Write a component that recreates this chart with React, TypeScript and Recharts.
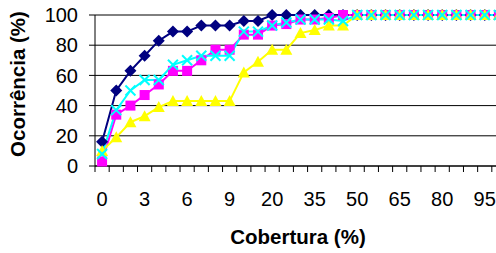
import { CartesianGrid, Label, Line, LineChart, XAxis, YAxis } from "recharts";

const CATEGORIES = [
  "0", "1", "2", "3", "4", "5", "6", "7", "8", "9",
  "10", "15", "20", "25", "30", "35", "40", "45", "50", "55",
  "60", "65", "70", "75", "80", "85", "90", "95", "100",
];

const SERIES_A = [16, 50, 63, 73, 83, 89, 89, 93, 93, 93, 96, 96, 100, 100, 100, 100, 100, 100, 100, 100, 100, 100, 100, 100, 100, 100, 100, 100, 100];
const SERIES_B = [3, 34, 40, 47, 54, 63, 63, 70, 77, 77, 87, 87, 93, 94, 97, 97, 98, 100, 100, 100, 100, 100, 100, 100, 100, 100, 100, 100, 100];
const SERIES_C = [10, 19, 29, 33, 39, 43, 43, 43, 43, 43, 62, 69, 77, 77, 88, 90, 93, 93, 100, 100, 100, 100, 100, 100, 100, 100, 100, 100, 100];
const SERIES_D = [8, 37, 50, 57, 57, 67, 70, 73, 73, 73, 89, 89, 93, 95, 97, 97, 97, 96, 100, 100, 100, 100, 100, 100, 100, 100, 100, 100, 100];

const Y_TICKS = [0, 20, 40, 60, 80, 100];

const data = CATEGORIES.map((cat, i) => ({
  pos: i + 0.5,
  cat,
  a: SERIES_A[i],
  b: SERIES_B[i],
  c: SERIES_C[i],
  d: SERIES_D[i],
}));

const X_TICKS = Array.from({ length: CATEGORIES.length + 1 }, (_, i) => i);

const FONT = "'Liberation Sans', Arial, sans-serif";
const PLOT_W = 411;
const BAND = PLOT_W / CATEGORIES.length;

const Diamond = (p: any) => {
  const { cx, cy } = p;
  if (cx == null || cy == null) return <g key={p.key} />;
  return (
    <polygon
      key={p.key}
      points={`${cx},${cy - 6} ${cx + 6},${cy} ${cx},${cy + 6} ${cx - 6},${cy}`}
      fill="#000080"
    />
  );
};

const Square = (p: any) => {
  const { cx, cy } = p;
  if (cx == null || cy == null) return <g key={p.key} />;
  return <rect key={p.key} x={cx - 5} y={cy - 5} width={10} height={10} fill="#FF00FF" />;
};

const Triangle = (p: any) => {
  const { cx, cy } = p;
  if (cx == null || cy == null) return <g key={p.key} />;
  return (
    <polygon
      key={p.key}
      points={`${cx},${cy - 6} ${cx + 6},${cy + 5} ${cx - 6},${cy + 5}`}
      fill="#FFFF00"
    />
  );
};

const Cross = (p: any) => {
  const { cx, cy } = p;
  if (cx == null || cy == null) return <g key={p.key} />;
  return (
    <g key={p.key} stroke="#00FFFF" strokeWidth={2}>
      <line x1={cx - 5} y1={cy - 5} x2={cx + 5} y2={cy + 5} />
      <line x1={cx - 5} y1={cy + 5} x2={cx + 5} y2={cy - 5} />
    </g>
  );
};

const XTick = (p: any) => {
  const { x, y, payload } = p;
  const i = payload.value;
  if (i % 3 !== 0 || i >= CATEGORIES.length) return <g />;
  return (
    <text x={x + BAND / 2} y={y} dy={14} textAnchor="middle" fill="#000" fontSize={20} fontFamily={FONT}>
      {CATEGORIES[i]}
    </text>
  );
};

export default function App() {
  return (
    <div style={{ position: "absolute", left: 0, top: 0, width: 496, height: 253, overflow: "hidden" }}>
      <LineChart
        width={508}
        height={253}
        data={data}
        margin={{ top: 15, right: 2, bottom: 0, left: 8 }}
        style={{ fontFamily: FONT }}
      >
        <CartesianGrid vertical={false} stroke="#000" strokeWidth={1} />
        <XAxis
          type="number"
          dataKey="pos"
          domain={[0, CATEGORIES.length]}
          ticks={X_TICKS}
          interval={0}
          allowDataOverflow
          height={87}
          stroke="#000"
          tickSize={6}
          tickMargin={20}
          tick={<XTick />}
        >
          <Label
            content={() => (
              <text x={298} y={244} textAnchor="middle" fontSize={20.5} fontWeight="bold" fill="#000" fontFamily={FONT}>
                Cobertura (%)
              </text>
            )}
          />
        </XAxis>
        <YAxis
          domain={[0, 100]}
          ticks={Y_TICKS}
          interval={0}
          width={87}
          stroke="#000"
          tickSize={6}
          tickMargin={11}
          tick={{ fill: "#000", fontSize: 20, fontFamily: FONT }}
        >
          <Label
            content={() => (
              <text
                x={0}
                y={0}
                transform="translate(25,84) rotate(-90)"
                textAnchor="middle"
                fontSize={20.5}
                fontWeight="bold"
                fill="#000"
                fontFamily={FONT}
              >
                Ocorrência (%)
              </text>
            )}
          />
        </YAxis>
        <Line dataKey="a" stroke="#000080" strokeWidth={2} dot={Diamond} isAnimationActive={false} />
        <Line dataKey="b" stroke="#FF00FF" strokeWidth={2} dot={Square} isAnimationActive={false} />
        <Line dataKey="c" stroke="#FFFF00" strokeWidth={2} dot={Triangle} isAnimationActive={false} />
        <Line dataKey="d" stroke="#00FFFF" strokeWidth={2} dot={Cross} isAnimationActive={false} />
      </LineChart>
    </div>
  );
}
